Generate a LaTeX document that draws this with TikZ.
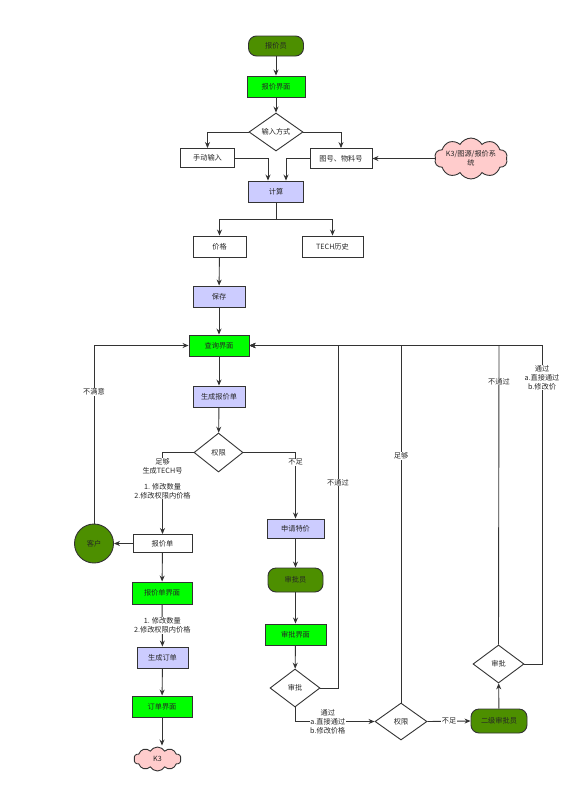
\documentclass[tikz,border=0pt]{standalone}
\usepackage{fontspec}
\setmainfont{Noto Sans CJK SC}
\usetikzlibrary{shapes.geometric,shapes.symbols,arrows.meta}
\definecolor{shenlv}{HTML}{4D8F00}
\definecolor{lianglv}{HTML}{00FF00}
\definecolor{danzi}{HTML}{CCCCFF}
\definecolor{fenhong}{HTML}{FFCCCC}
\definecolor{xian}{HTML}{333333}

\begin{document}
\begin{tikzpicture}[x=1pt,y=-1pt,>={Stealth[length=6pt,width=5pt]},line width=0.9pt,
  font=\fontsize{7.2}{9}\selectfont,
  every node/.style={inner sep=1pt,align=center,text=black!85},
  box/.style={draw=xian,rectangle,fill=white,minimum width=55pt,minimum height=21pt},
  term/.style={box,fill=shenlv,rounded corners=8pt,minimum height=20pt},
  pan/.style={draw=xian,diamond,fill=white,inner sep=0pt,minimum width=50pt,minimum height=38pt},
  yun/.style={draw=xian,cloud,fill=fenhong,cloud puffs=10,cloud puff arc=120,aspect=2.4,inner sep=0pt},
  lbl/.style={fill=white,inner sep=0.5pt},
  jt/.style={->,draw=xian}]
\path[use as bounding box,fill=white] (0,0) rectangle (577,804);

\node[term] (byy) at (276,46) {报价员};
\node[box,fill=lianglv,minimum width=58pt] (bjjm) at (276,86.5) {报价界面};
\node[pan,minimum width=54pt] (srfs) at (276,132) {输入方式};
\node[box,minimum width=54pt,minimum height=19pt] (sdsr) at (207.5,158) {手动输入};
\node[box,minimum width=62pt,minimum height=20pt] (thwl) at (341,158.5) {图号、物料号};
\node[yun,minimum width=70pt,minimum height=27pt] (yuan) at (471,158.5) {K3/图源/报价系\\统};
\node[box,fill=danzi] (js) at (276,191.5) {计算};
\coordinate (fen) at (276,219);
\node[box,minimum width=53pt] (jg) at (219.5,246.5) {价格};
\node[box,minimum width=61pt] (tech) at (332.5,246.5) {TECH历史};
\node[box,fill=danzi,minimum width=52pt] (bc) at (219,296.5) {保存};
\node[box,fill=lianglv,minimum width=60pt] (cxjm) at (219,345.5) {查询界面};
\node[box,fill=danzi,minimum width=52pt] (scbjd) at (219,396.5) {生成报价单};
\node[pan,minimum width=49pt,minimum height=39pt] (qx) at (218.5,452.5) {权限};
\node[box,minimum width=59pt,minimum height=18pt] (bjd) at (162.5,543.5) {报价单};
\node[draw=xian,circle,fill=shenlv,minimum size=39pt] (kh) at (94,543.5) {客户};
\node[box,fill=lianglv,minimum width=60pt,minimum height=22pt] (bjdjm) at (162,593) {报价单界面};
\node[box,fill=danzi,minimum width=51pt] (scdd) at (162.5,657.5) {生成订单};
\node[box,fill=lianglv,minimum width=60pt] (ddjm) at (162,706.5) {订单界面};
\node[yun,minimum width=47pt,minimum height=24pt] (kk) at (157.5,759) {K3};
\node[box,fill=danzi,minimum width=57pt,minimum height=19pt] (sqtj) at (295.5,528.5) {申请特价};
\node[term,minimum height=24pt] (spy) at (295.5,580) {审批员};
\node[box,fill=lianglv,minimum width=61pt] (spjm) at (295.5,634.5) {审批界面};
\node[pan] (sp) at (295,688) {审批};
\node[pan,minimum width=52pt,minimum height=37pt] (qxer) at (401,721.5) {权限};
\node[term,minimum width=56pt,minimum height=24pt] (ejspy) at (499,721) {二级审批员};
\node[pan,minimum width=51pt] (sper) at (498.5,664) {审批};
\coordinate (hui1) at (338,345.5);
\coordinate (hui2) at (401,345.5);
\coordinate (hui3) at (499,345.5);
\coordinate (hui4) at (542,345.5);

\draw[jt] (byy) -- (bjjm);
\draw[jt] (bjjm) -- (srfs);
\draw[jt] (srfs.west) -| (sdsr.north);
\draw[jt] (srfs.east) -| (thwl.north);
\draw[jt] (yuan.west) -- (thwl.east);
\draw[jt] (sdsr.east) -| ([xshift=-8pt]js.north);
\draw[jt] (thwl.west) -| ([xshift=10pt]js.north);
\draw[draw=xian] (js) -- (fen);
\draw[jt] (fen) -| (jg.north);
\draw[jt] (fen) -| (tech.north);
\draw[jt] (jg) -- (bc);
\draw[jt] (bc) -- (cxjm);
\draw[jt] (cxjm) -- (scbjd);
\draw[jt] (scbjd) -- (qx);
\draw[jt] (qx.west) -| node[lbl,pos=0.66] {足够\\生成TECH号\\[7pt]1. 修改数量\\2.修改权限内价格} (bjd.north);
\draw[jt] (qx.east) -| node[lbl,pos=0.575] {不足} (sqtj.north);
\draw[jt] (bjd) -- (kh);
\draw[jt] (kh.north) |- node[lbl,pos=0.37] {不满意} (cxjm.west);
\draw[jt] (bjd) -- (bjdjm);
\draw[jt] (bjdjm) -- node[lbl] {1. 修改数量\\2.修改权限内价格} (scdd);
\draw[jt] (scdd) -- (ddjm);
\draw[jt] (ddjm.south) -- ([yshift=1pt]ddjm.south |- kk.north);
\draw[jt] (sqtj) -- (spy);
\draw[jt] (spy) -- (spjm);
\draw[jt] (spjm) -- (sp);
% back to the query screen
\draw[jt] (sp.east) -| node[lbl,pos=0.8] {不通过} (hui1) -- (cxjm.east);
\draw[jt] (sp.south) |- node[lbl,pos=0.706] {通过\\a.直接通过\\b.修改价格} (qxer.west);
\draw[jt] (qxer.north) -- node[lbl,pos=0.69] {足够} (hui2) -- (cxjm.east);
\draw[jt] (qxer.east) -- node[lbl] {不足} (ejspy.west);
\draw[jt] (ejspy) -- (sper);
\draw[jt] (sper.north) -- node[lbl,pos=0.88] {不通过} (hui3) -- (cxjm.east);
\draw[jt] (sper.east) -| node[lbl,pos=0.95] {通过\\a.直接通过\\b.修改价} (hui4) -- (cxjm.east);
\end{tikzpicture}
\end{document}
